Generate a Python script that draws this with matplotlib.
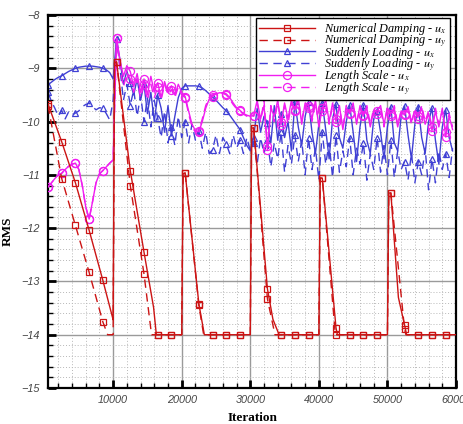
import numpy as np
import matplotlib
matplotlib.use('Agg')
import matplotlib.pyplot as plt
from matplotlib.ticker import MultipleLocator
from matplotlib.lines import Line2D

plt.rcParams['mathtext.fontset'] = 'stix'

# ---------------- data ----------------
# shared iteration grid for the Suddenly Loading / Length Scale runs
iteration_grid = np.arange(500, 60000, 500)

sl_ux = [
    -9.31, -9.26, -9.21, -9.17,   -9.14, -9.10, -9.06, -9.03,
    -9.00, -8.98, -8.97, -8.96,   -8.96, -8.96, -8.97, -8.98,
    -9.00, -9.03, -9.08, -9.20,   -8.45, -8.85, -9.30, -9.05,
    -9.28, -9.50, -9.20, -9.60,   -9.30, -9.85, -9.45, -10.00,
    -9.50, -9.75, -10.20, -9.70,  -10.27, -9.90, -9.55, -9.38,
    -9.33, -9.33, -9.33, -9.33,   -9.34, -9.37, -9.42, -9.48,
    -9.54, -9.60, -9.67, -9.74,   -9.80, -9.88, -9.97, -10.06,
    -10.15, -10.30, -10.45, -10.55,
    -10.30, -9.75, -10.20, -9.90,  -10.03, -10.40, -9.70, -10.35,
    -9.85, -10.30, -10.00, -10.55, -9.62, -10.10, -10.45, -9.90,
    -9.63, -10.20, -10.60, -10.05, -9.65, -10.15, -10.70, -9.95,
    -9.67, -10.30, -10.50, -10.00, -9.69, -10.20, -10.75, -10.10,
    -9.69, -10.35, -10.60, -9.95,  -9.80, -10.20, -10.70, -10.10,
    -9.72, -10.40, -10.55, -9.90,  -9.70, -10.25, -10.70, -10.05,
    -9.72, -10.30, -10.60, -10.00, -9.75, -10.35, -10.80, -10.10,
    -9.78, -10.30, -10.55,
]

sl_uy = [
    -9.45, -9.62, -9.75, -9.90,   -9.79, -9.95, -9.82, -9.88,
    -9.84, -9.80, -9.72, -9.68,   -9.65, -9.72, -9.78, -9.74,
    -9.75, -9.85, -9.97, -9.60,   -8.45, -9.00, -9.60, -9.30,
    -9.70, -9.40, -9.90, -9.50,   -10.00, -9.55, -10.10, -9.60,
    -9.94, -10.30, -9.80, -10.40, -10.10, -10.45, -9.90, -10.30,
    -10.00, -10.40, -10.05, -10.35, -10.18, -10.50, -10.20, -10.60,
    -10.53, -10.25, -10.60, -10.30, -10.42, -10.60, -10.25, -10.50,
    -10.35, -10.60, -10.30, -10.55,
    -10.40, -10.80, -10.30, -10.60, -10.35, -10.85, -10.40, -10.70,
    -10.20, -10.95, -10.45, -10.80, -10.25, -10.75, -10.35, -11.00,
    -10.30, -10.90, -10.50, -11.10, -10.20, -10.80, -10.40, -11.05,
    -10.25, -10.95, -10.55, -10.85, -10.30, -11.00, -10.50, -10.80,
    -10.40, -11.10, -10.60, -10.90, -10.30, -10.95, -10.45, -11.00,
    -10.35, -11.05, -10.55, -10.90, -10.75, -11.10, -10.60, -11.15,
    -10.75, -11.00, -10.50, -11.28, -10.70, -11.15, -10.55, -10.90,
    -10.60, -11.05, -10.50,
]

ls_ux = [
    -11.23, -11.15, -11.07, -11.00, -10.97, -10.90, -10.84, -10.80,
    -10.78, -10.90, -11.20, -11.60, -11.83, -11.50, -11.15, -10.98,
    -10.92, -10.85, -10.78, -10.72, -8.44, -8.85, -9.15, -8.95,
    -9.06, -9.35, -9.10, -9.45,    -9.20, -9.50, -9.15, -9.45,
    -9.27, -9.55, -9.25, -9.45,    -9.33, -9.50, -9.30, -9.45,
    -9.53, -9.80, -10.05, -10.17,  -10.19, -10.00, -9.75, -9.58,
    -9.53, -9.48, -9.46, -9.46,    -9.48, -9.55, -9.65, -9.74,
    -9.79, -9.85, -9.88, -9.90,
    -9.89, -9.60, -9.95, -9.70,    -10.53, -9.75, -9.90, -9.60,
    -10.06, -9.65, -9.95, -9.60,   -9.78, -9.55, -10.05, -9.65,
    -9.70, -9.95, -9.60, -10.10,   -9.75, -9.60, -10.00, -9.65,
    -10.00, -9.70, -10.15, -9.75,  -9.83, -9.65, -10.05, -9.70,
    -9.88, -9.75, -10.10, -9.80,   -9.80, -9.70, -10.05, -9.75,
    -9.85, -9.75, -10.10, -9.80,   -9.88, -9.72, -10.00, -9.80,
    -9.90, -9.75, -10.05, -9.85,   -10.17, -9.80, -10.10, -9.75,
    -10.29, -9.90, -10.15,
]

ls_uy = [
    -11.23, -11.15, -11.07, -11.00, -10.97, -10.90, -10.84, -10.80,
    -10.78, -10.90, -11.20, -11.60, -11.83, -11.50, -11.15, -10.98,
    -10.92, -10.85, -10.78, -10.72, -8.44, -9.00, -9.35, -9.10,
    -9.20, -9.45, -9.20, -9.55,    -9.30, -9.60, -9.30, -9.55,
    -9.35, -9.60, -9.30, -9.50,    -9.40, -9.55, -9.35, -9.50,
    -9.55, -9.85, -10.10, -10.20,  -10.18, -9.95, -9.70, -9.55,
    -9.50, -9.47, -9.45, -9.47,    -9.50, -9.58, -9.68, -9.76,
    -9.80, -9.86, -9.90, -9.85,
    -9.90, -9.65, -10.00, -9.60,   -10.45, -9.70, -10.00, -9.65,
    -10.00, -9.70, -10.05, -9.65,  -9.80, -9.60, -9.95, -9.70,
    -9.75, -10.00, -9.65, -10.05,  -9.80, -9.65, -10.05, -9.70,
    -9.95, -9.75, -10.10, -9.70,   -9.85, -9.70, -10.00, -9.75,
    -9.90, -9.70, -10.05, -9.75,   -9.85, -9.75, -10.10, -9.70,
    -9.90, -9.70, -10.05, -9.80,   -9.85, -9.75, -10.05, -9.75,
    -9.95, -9.70, -10.00, -9.80,   -10.10, -9.75, -10.05, -9.80,
    -10.20, -9.85, -10.10,
]

# Numerical Damping runs (vertices)
nd_ux_iter = [500, 2500, 4500, 6500, 8500, 9900, 10000, 10200, 10500, 12500, 14500,
              15900, 16300, 16500, 18500, 20000, 20200, 20500, 22500, 23300, 24500,
              26500, 28500, 30000, 30200, 30500, 31700, 32500, 33300, 34200, 34500,
              36500, 38500, 40000, 40200, 40500, 42500, 42700, 44500, 46500, 48500,
              50000, 50200, 50500, 51600, 52500, 52800, 54500, 56500, 58500, 60000]
nd_ux = [-9.67, -10.38, -11.15, -12.04, -12.98, -13.67, -13.72, -8.90, -8.88, -10.92, -12.45,
         -13.49, -14.0, -14.0, -14.0, -14.0, -10.98, -10.96, -13.42, -14.0, -14.0,
         -14.0, -14.0, -14.0, -10.12, -10.12, -11.93, -13.14, -13.71, -14.0, -14.0,
         -14.0, -14.0, -14.0, -11.06, -11.06, -13.87, -14.0, -14.0, -14.0, -14.0,
         -14.0, -11.34, -11.34, -13.30, -13.82, -14.0, -14.0, -14.0, -14.0, -14.0]

nd_uy_iter = [500, 2500, 4500, 6500, 8500, 9200, 10000, 10200, 10500, 12500, 14500,
              15600, 16500, 18500, 20000, 20200, 20500, 22500, 23200, 24500, 26500,
              28500, 30000, 30200, 30500, 32500, 33600, 34500, 36500, 38500, 40000,
              40200, 40500, 42400, 42500, 44500, 46500, 48500, 50000, 50200, 50500,
              52500, 52700, 54500, 56500, 58500, 60000]
nd_uy = [-9.70, -11.07, -11.95, -12.83, -13.76, -14.0, -14.0, -8.90, -8.88, -11.20, -12.86,
         -14.0, -14.0, -14.0, -14.0, -10.98, -10.96, -13.45, -14.0, -14.0, -14.0,
         -14.0, -14.0, -10.12, -10.12, -13.33, -14.0, -14.0, -14.0, -14.0, -14.0,
         -11.06, -11.06, -14.0, -14.0, -14.0, -14.0, -14.0, -14.0, -11.34, -11.34,
         -13.90, -14.0, -14.0, -14.0, -14.0, -14.0]

labels = [r'Numerical Damping - $u_x$', r'Numerical Damping - $u_y$',
          r'Suddenly Loading - $u_x$', r'Suddenly Loading - $u_y$',
          r'Length Scale - $u_x$', r'Length Scale - $u_y$']

RED = '#cc1414'
BLUE = '#4040d4'
MAG = '#f01ef0'
DASH = (0, (6, 4))


def marks(xs):
    return [i for i, x in enumerate(xs) if (x - 500) % 2000 == 0]


fig = plt.figure(figsize=(4.64, 4.24), dpi=100)
ax = fig.add_axes([48 / 464, 1 - 388 / 424, 408 / 464, 373 / 424])

series = [
    (nd_ux_iter, nd_ux, RED, '-', 's', 4.6, 4),
    (nd_uy_iter, nd_uy, RED, DASH, 's', 4.6, 4),
    (iteration_grid, sl_ux, BLUE, '-', '^', 4.6, 2),
    (iteration_grid, sl_uy, BLUE, DASH, '^', 4.6, 2),
    (iteration_grid, ls_ux, MAG, '-', 'o', 5.8, 3),
    (iteration_grid, ls_uy, MAG, DASH, 'o', 5.8, 3),
]

handles = []
for (xs, ys, c, ls, m, ms, z), lab in zip(series, labels):
    xs = list(xs)
    ax.plot(xs, ys, color=c, linestyle=ls, lw=1.0, marker=m, ms=ms,
            mfc='none', mec=c, mew=0.9, markevery=marks(xs), zorder=z)
    handles.append(Line2D([], [], color=c, linestyle=ls, lw=1.0, marker=m, ms=ms,
                          mfc='none', mec=c, mew=0.9))

ax.set_xlim(500, 60000)
ax.set_ylim(-15, -8)
ax.xaxis.set_major_locator(MultipleLocator(10000))
ax.xaxis.set_minor_locator(MultipleLocator(2000))
ax.yaxis.set_major_locator(MultipleLocator(1))
ax.yaxis.set_minor_locator(MultipleLocator(0.2))

ax.grid(which='major', color='#9a9a9a', lw=1.0, ls='-')
ax.grid(which='minor', color='#b8b8b8', lw=0.7, ls=(0, (1, 2)))
ax.set_axisbelow(True)

ax.tick_params(which='major', direction='in', length=6, width=2, color='black',
               top=False, right=False)
ax.tick_params(which='minor', direction='in', length=3.5, width=1, color='black',
               top=False, right=False)
for lab in ax.get_xticklabels() + ax.get_yticklabels():
    lab.set_fontfamily('Liberation Sans')
    lab.set_fontstyle('italic')
    lab.set_fontsize(7.8)
    lab.set_color('#444444')
ax.tick_params(axis='y', pad=6)
ax.tick_params(axis='x', pad=5)

for sp in ax.spines.values():
    sp.set_linewidth(1.6)
    sp.set_color('black')

ax.set_xlabel('Iteration', fontfamily='Liberation Serif', fontweight='bold', fontsize=9.5)
ax.set_ylabel('RMS', fontfamily='Liberation Serif', fontweight='bold', fontsize=9.5)
ax.xaxis.set_label_coords(0.502, -0.064)
ax.yaxis.set_label_coords(-0.083, 0.42)

leg = ax.legend(handles, labels, loc='upper right', bbox_to_anchor=(0.985, 0.992),
                borderaxespad=0, frameon=True, fancybox=False, handlelength=4.6,
                handletextpad=0.75, labelspacing=-0.38, borderpad=0.25,
                prop={'family': 'Liberation Serif', 'style': 'italic', 'size': 8.8})
leg.get_frame().set_edgecolor('black')
leg.get_frame().set_linewidth(1.0)
leg.get_frame().set_alpha(1)
leg.set_zorder(10)

fig.savefig('out.png', dpi=100)
